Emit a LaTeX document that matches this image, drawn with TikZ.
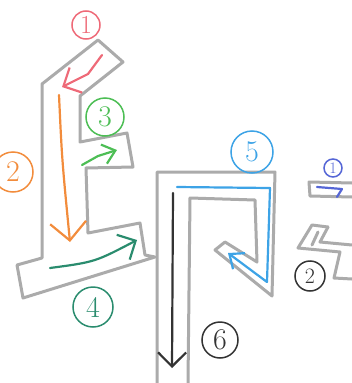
\documentclass[tikz,border=0pt]{standalone}
\usepackage{xcolor}
\usepackage{tikz}
\usetikzlibrary{arrows.meta}
\definecolor{pencilgray}{HTML}{ABABAB}
\definecolor{strokered}{HTML}{EE6A78}
\definecolor{strokeorange}{HTML}{F28C3C}
\definecolor{strokegreen}{HTML}{4DBE55}
\definecolor{strokedeep}{HTML}{2A8C6E}
\definecolor{strokeblue}{HTML}{3DA3E6}
\definecolor{strokeindigo}{HTML}{5566D6}
\definecolor{strokeblack}{HTML}{333333}
\tikzset{
  outline/.style={draw=pencilgray, line width=3pt, line join=round, line cap=round},
  every node/.style={anchor=center}
}

\begin{document}
\begin{tikzpicture}[
  x=1pt, y=-1pt,
  stroke/.style={line width=2.2pt, line cap=round, line join=round},
  num/.style={circle, draw, line width=1.5pt, inner sep=0pt, font=\fontsize{30}{30}\selectfont},
  bigtip/.style={-{Straight Barb[length=18pt,width=36pt]}},
  midtip/.style={-{Straight Barb[length=14pt,width=28pt]}},
  smalltip/.style={-{Straight Barb[length=12pt,width=20pt]}}
]
\useasboundingbox (0,0) rectangle (352,383);

\draw[outline] (42,258) -- (42,84) -- (98,40) -- (123,62) -- (80,96) -- (80,142)
  -- (127,133) -- (133,167) -- (86,168) -- (88,233) -- (140,223) -- (145,255)
  -- (155,257) -- (23,298) -- (17,265) -- (42,258);
\draw[outline] (157,383) -- (157,172) -- (275,172) -- (272,296) -- (215,250)
  -- (225,242) -- (257,262) -- (255,200) -- (190,198) -- (188,383);
\draw[outline] (352,183) -- (309,182) -- (310,196) -- (352,197);
\draw[outline] (328,227) -- (312,225) -- (298,248) -- (340,252) -- (334,278) -- (352,279);
\draw[outline] (318,232) -- (312,245);
\draw[outline] (328,227) -- (320,242) -- (352,245);

\node[num, draw=strokered, text=strokered, minimum size=28pt, font=\fontsize{26}{26}\selectfont] (n1) at (86,25) {1};
\node[num, draw=strokeorange, text=strokeorange, minimum size=40pt] (n2) at (13,172) {2};
\node[num, draw=strokegreen, text=strokegreen, minimum size=38pt] (n3) at (105,117) {3};
\node[num, draw=strokedeep, text=strokedeep, minimum size=40pt] (n4) at (93,307) {4};
\node[num, draw=strokeblue, text=strokeblue, minimum size=42pt] (n5) at (252,152) {5};
\node[num, draw=strokeblack, text=strokeblack, minimum size=36pt] (n6) at (220,340) {6};
\node[num, draw=strokeindigo, text=strokeindigo, minimum size=18pt, font=\fontsize{16}{16}\selectfont] (m1) at (333,168) {1};
\node[num, draw=strokeblack, text=strokeblack, minimum size=30pt, font=\fontsize{22}{22}\selectfont] (m2) at (310,276) {2};

\draw[stroke, midtip, strokered] (102,55) -- (88,74) -- (62,87);
\draw[stroke, bigtip, strokeorange] (59,95) .. controls (62,160) .. (70,242);
\draw[stroke, smalltip, strokegreen] (82,165) -- (98,156) -- (117,150);
\draw[stroke, midtip, strokedeep] (50,268) .. controls (95,262) .. (137,240);
\draw[stroke, smalltip, strokeblue] (177,187) -- (270,188) -- (267,282) -- (228,253);
\draw[stroke, midtip, strokeblack] (173,193) -- (172,368);
\draw[stroke, strokeindigo] (317,187) -- (342,189) -- (337,197);
\end{tikzpicture}
\end{document}
